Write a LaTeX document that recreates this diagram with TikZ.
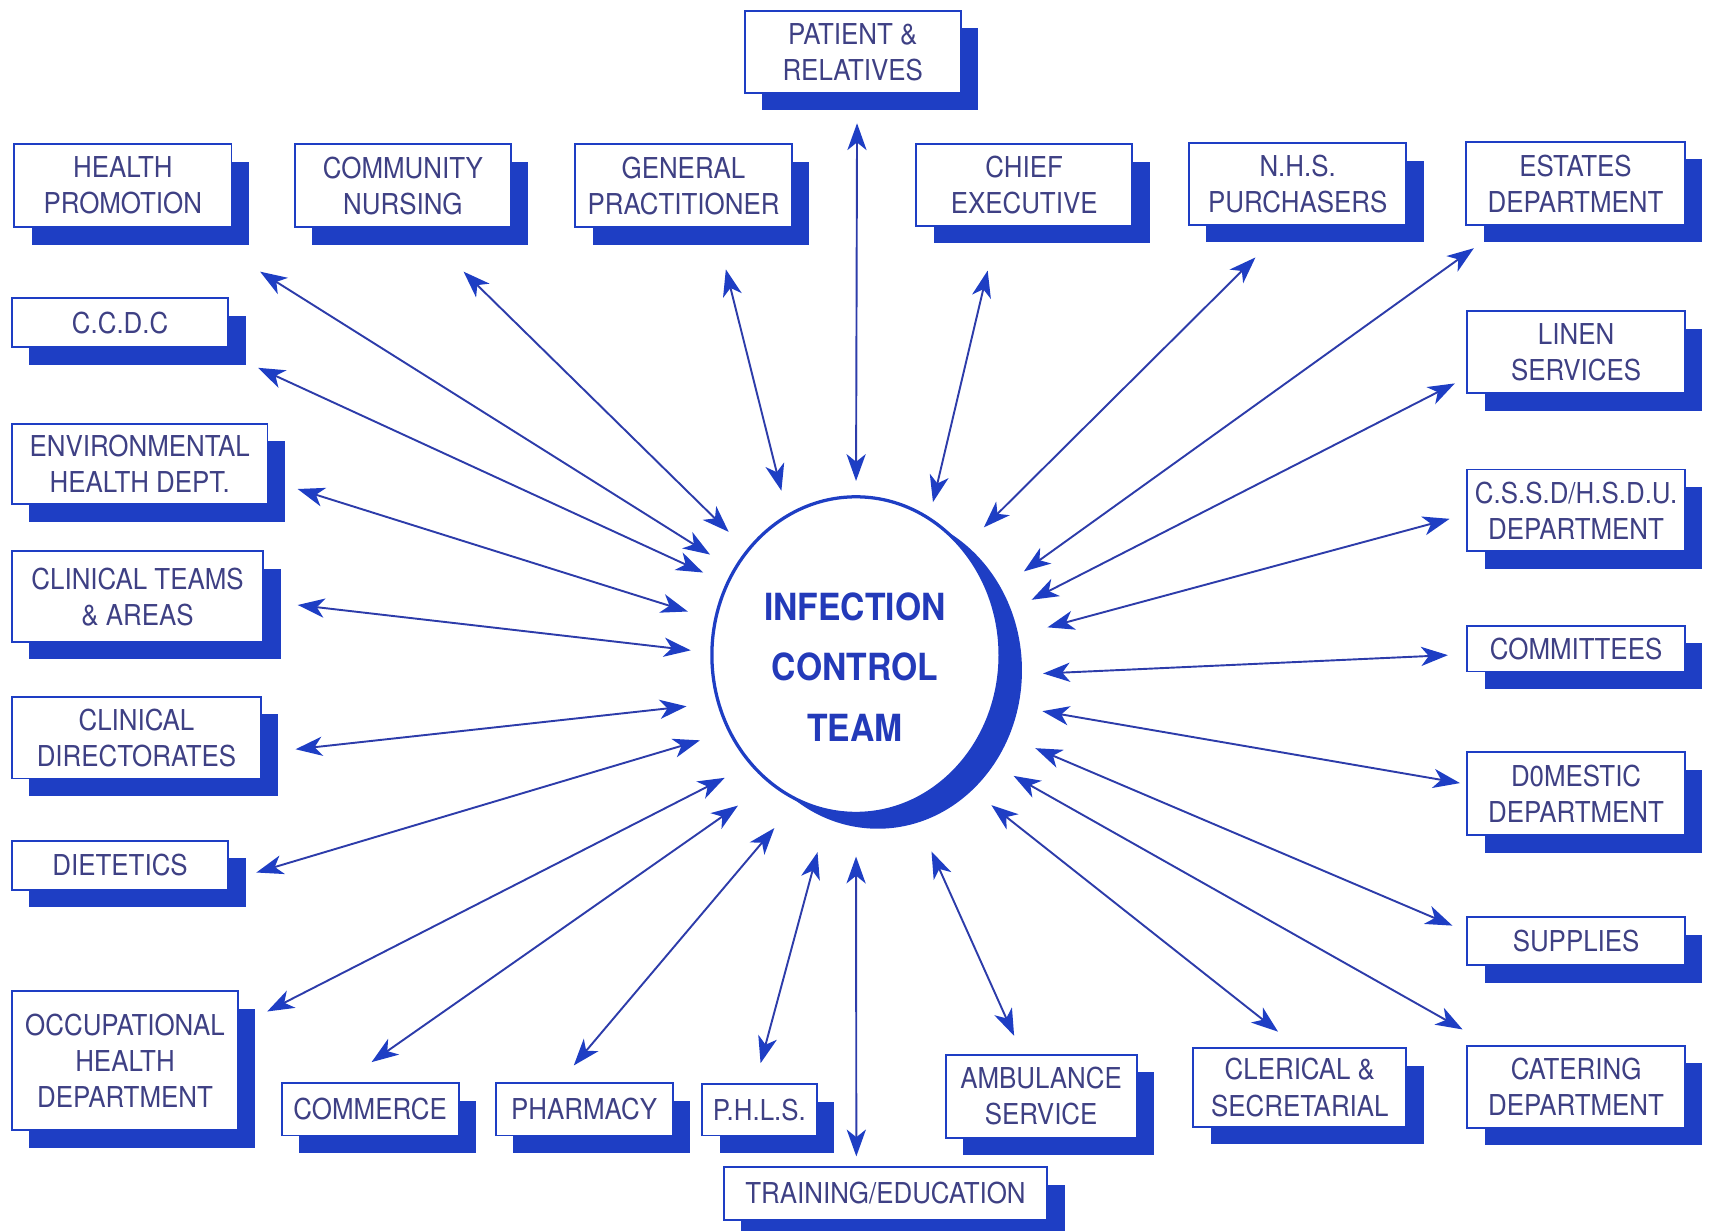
\documentclass[tikz,border=0pt]{standalone}
\usepackage{fontspec}
\setmainfont{TeX Gyre Heros}[FakeStretch=0.9]
\usetikzlibrary{shapes.geometric, shadows, arrows.meta}
\definecolor{icblue}{RGB}{30,62,196}
\definecolor{icline}{RGB}{45,60,170}
\definecolor{ictext}{RGB}{62,64,132}
\definecolor{teamtext}{RGB}{35,58,185}

\begin{document}
\begin{tikzpicture}[x=0.02cm, y=-0.02cm,
    dept/.style args={#1x#2}{draw=icblue, line width=1pt, fill=white, text=ictext,
        minimum width=#1*0.02cm, minimum height=#2*0.02cm, inner sep=1pt, align=center,
        font=\fontsize{15}{18.8}\selectfont,
        drop shadow={shadow xshift=16*0.02cm, shadow yshift=-16*0.02cm, fill=icblue, opacity=1}},
    team/.style={ellipse, draw=icblue, line width=1.7pt, fill=white, inner sep=0pt,
        minimum width=264*0.02cm, minimum height=290*0.02cm,
        drop shadow={shadow xshift=20*0.02cm, shadow yshift=-14*0.02cm, fill=icblue, opacity=1}},
    teamlabel/.style={text=teamtext, align=center, font=\fontsize{19.5}{31.3}\selectfont\bfseries},
    link/.style={arrows={Stealth[length=14pt, width=10pt, inset=4pt, color=icblue]-Stealth[length=14pt, width=10pt, inset=4pt, color=icblue]},
        draw=icline, line width=1pt}]
    \useasboundingbox (0,0) rectangle (1568,1127);

    % infection control team in the middle
    \node[team] (ict) at (784,600) {};
    \node[teamlabel] (ictlbl) at (783,611) {INFECTION\\CONTROL\\TEAM};

    % top row
    \node[dept=198x75] (pat) at (781,47.5) {PATIENT \&\\RELATIVES};
    \node[dept=199x76] (hp) at (112.5,170) {HEALTH\\PROMOTION};
    \node[dept=198x76] (cn) at (369,170) {COMMUNITY\\NURSING};
    \node[dept=198x76] (gp) at (626,170) {GENERAL\\PRACTITIONER};
    \node[dept=198x75] (ce) at (938,169.5) {CHIEF\\EXECUTIVE};
    \node[dept=199x75] (nhs) at (1188.5,168.5) {N.H.S.\\PURCHASERS};
    \node[dept=200x76] (est) at (1443,168) {ESTATES\\DEPARTMENT};

    % left column
    \node[dept=198x45] (ccdc) at (110,295.5) {C.C.D.C};
    \node[dept=234x74] (env) at (128,425) {ENVIRONMENTAL\\HEALTH DEPT.};
    \node[dept=230x83] (ct) at (126,546.5) {CLINICAL TEAMS\\\& AREAS};
    \node[dept=228x75] (cd) at (125,675.5) {CLINICAL\\DIRECTORATES};
    \node[dept=198x45] (diet) at (110,792.5) {DIETETICS};
    \node[dept=207x127] (occ) at (114.5,971.5) {OCCUPATIONAL\\HEALTH\\DEPARTMENT};

    % right column
    \node[dept=199x75] (lin) at (1443.5,322.5) {LINEN\\SERVICES};
    \node[dept=199x75] (cssd) at (1443.5,467.5) {C.S.S.D/H.S.D.U.\\DEPARTMENT};
    \node[dept=199x42] (com) at (1443.5,594) {COMMITTEES};
    \node[dept=199x76] (dom) at (1443.5,727) {D0MESTIC\\DEPARTMENT};
    \node[dept=199x44] (sup) at (1443.5,862) {SUPPLIES};
    \node[dept=199x75] (cat) at (1443.5,995.5) {CATERING\\DEPARTMENT};

    % bottom row
    \node[dept=162x48] (comm) at (339,1016) {COMMERCE};
    \node[dept=162x48] (phar) at (535,1016) {PHARMACY};
    \node[dept=105x47] (phls) at (695.5,1016.5) {P.H.L.S.};
    \node[dept=296x48] (train) at (811,1093) {TRAINING/EDUCATION};
    \node[dept=175x76] (amb) at (953.5,1004) {AMBULANCE\\SERVICE};
    \node[dept=195x72] (cler) at (1190.5,996) {CLERICAL \&\\SECRETARIAL};

    % two way links: node / angle at team / gap / angle at box / gap
    \foreach \nm/\ta/\ga/\tb/\gb in {pat/90/13/-84/27, hp/145/25/-32/75, cn/136/23/-69/57,
        gp/116/22/-53/39, ce/62/14/-122/41, nhs/45/26/-104/41, est/24/37/-149/35,
        lin/15/35/-167/12, cssd/6/44/-178/16, com/-8/39/-177/17, dom/-19/44/175/6,
        sup/-29/49/175/14, cat/-40/44/154/29, cler/-51/45/93/23, amb/-70/48/114/18,
        train/-90/38/137/9, phls/-100/38/99/19, phar/-112/32/132/20, comm/-124/35/135/32,
        occ/-134/26/17/29, diet/-149/27/-8/26, cd/-161/28/-7/31, ct/179/18/-2/31,
        env/166/25/-7/28, ccdc/151/23/-15/43}
        \draw[link, shorten <=\ga*0.02cm, shorten >=\gb*0.02cm] (ict.\ta) -- (\nm.\tb);
\end{tikzpicture}
\end{document}
